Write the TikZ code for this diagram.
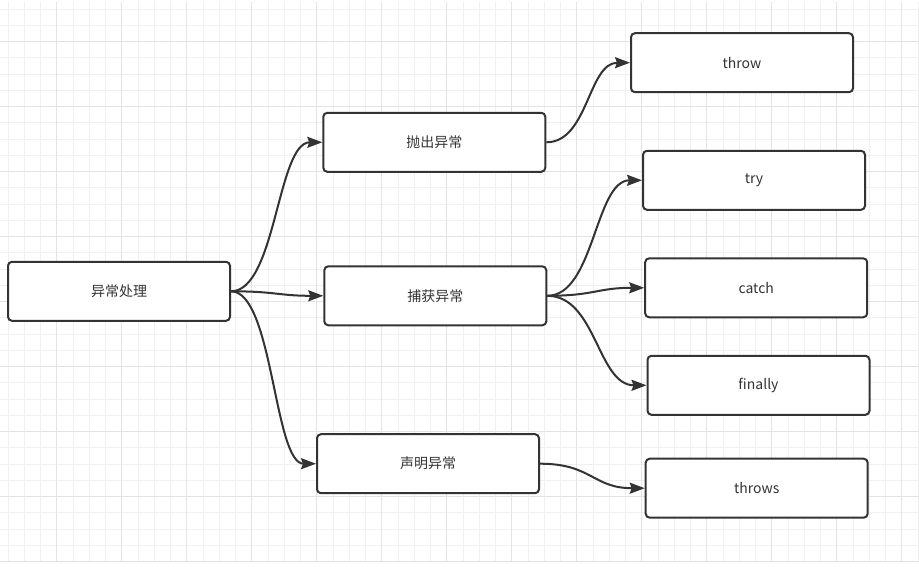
\documentclass[tikz,border=0pt]{standalone}
\usepackage{fontspec}
\setmainfont{Noto Sans CJK SC}
\usetikzlibrary{arrows.meta}
\definecolor{gridminor}{HTML}{F0F0F0}
\definecolor{gridmajor}{HTML}{E3E3E3}
\definecolor{ink}{HTML}{333333}
\begin{document}
\begin{tikzpicture}[x=1pt,y=-1pt,
  box/.style={draw=ink, line width=2pt, fill=white, rounded corners=4pt,
    minimum width=222pt, minimum height=59pt, inner sep=0pt, text=ink,
    font=\fontsize{14pt}{16pt}\selectfont},
  link/.style={draw=ink, line width=2pt, -{Stealth[length=15pt,width=11pt,inset=2pt]}}]
\useasboundingbox (0,0) rectangle (919,567);
\fill[white] (0,0) rectangle (919,567);
% grid
\foreach \k in {0,...,56} \draw[gridminor, line width=1pt] ({8+16.25*\k},2) -- ({8+16.25*\k},562);
\foreach \k in {0,...,34} \draw[gridminor, line width=1pt] (0,{9.2+16.25*\k}) -- (919,{9.2+16.25*\k});
\foreach \k in {3,7,...,55} \draw[gridmajor, line width=1pt] ({8+16.25*\k},2) -- ({8+16.25*\k},562);
\foreach \k in {2,6,...,34} \draw[gridmajor, line width=1pt] (0,{9.2+16.25*\k}) -- (919,{9.2+16.25*\k});
% nodes
\node[box] (root) at (119,291.3) {异常处理};
\node[box] (pc) at (434.3,142.3) {抛出异常};
\node[box] (bh) at (435.3,295.8) {捕获异常};
\node[box] (sm) at (428,463.7) {声明异常};
\node[box] (throw) at (742,62.7) {throw};
\node[box] (try) at (754,180.3) {try};
\node[box] (catch) at (756.2,287.8) {catch};
\node[box] (finally) at (758.5,385.3) {finally};
\node[box] (throws) at (756.7,488.2) {throws};
% links
\draw[link] (root.east) .. controls +(45,0) and +(-45,0) .. (pc.west);
\draw[link] (root.east) .. controls +(45,0) and +(-45,0) .. (bh.west);
\draw[link] (root.east) .. controls +(42,0) and +(-42,0) .. (sm.west);
\draw[link] (pc.east) .. controls +(42,0) and +(-42,0) .. (throw.west);
\draw[link] (bh.east) .. controls +(47,0) and +(-47,0) .. (try.west);
\draw[link] (bh.east) .. controls +(47,0) and +(-47,0) .. (catch.west);
\draw[link] (bh.east) .. controls +(49,0) and +(-49,0) .. (finally.west);
\draw[link] (sm.east) .. controls +(52,0) and +(-52,0) .. (throws.west);
\end{tikzpicture}
\end{document}
